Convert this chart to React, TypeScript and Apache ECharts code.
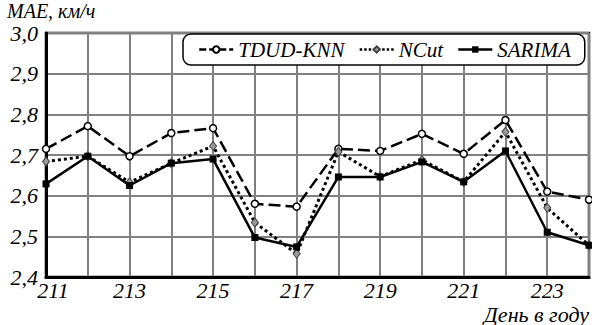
import React, { useEffect, useRef } from "react";
import * as echarts from "echarts";

const days = [211, 212, 213, 214, 215, 216, 217, 218, 219, 220, 221, 222, 223, 224];
const tdudKnn = [2.715, 2.771, 2.697, 2.754, 2.766, 2.58, 2.573, 2.715, 2.71, 2.752, 2.703, 2.786, 2.61, 2.59];
const nCut = [2.684, 2.697, 2.633, 2.68, 2.722, 2.534, 2.457, 2.708, 2.647, 2.688, 2.634, 2.757, 2.57, 2.478];
const sarima = [2.629, 2.697, 2.625, 2.68, 2.69, 2.497, 2.474, 2.646, 2.646, 2.683, 2.634, 2.71, 2.51, 2.478];
const yTitle = "MAE, км/ч";
const xTitle = "День в году";

const FONT = "Liberation Serif";
const DASH = [12, 5];
const DOT = [3, 3];

export default function App() {
  const ref = useRef<HTMLDivElement>(null);
  useEffect(() => {
    document.body.style.margin = "0";
    const chart = echarts.init(ref.current!, undefined, { renderer: "svg" });
    const pair = (arr: number[]) => days.map((d, i) => [d, arr[i]]);
    chart.setOption({
      animation: false,
      backgroundColor: "#fff",
      grid: {
        left: 46,
        right: 3,
        top: 33,
        bottom: 48,
        show: true,
        borderColor: "#000",
        borderWidth: 2.5,
        containLabel: false,
      },
      legend: {
        left: 183,
        top: 34,
        width: 404,
        height: 32,
        padding: [5, 14, 5, 15],
        itemGap: 14,
        itemWidth: 34,
        itemHeight: 8,
        backgroundColor: "#fff",
        borderColor: "#000",
        borderWidth: 1.5,
        borderRadius: 8,
        textStyle: { fontFamily: FONT, fontStyle: "italic", fontSize: 21, color: "#000" },
        data: [
          { name: "TDUD-KNN", lineStyle: { type: [7, 3], width: 2.5, color: "#000" } },
          { name: "NCut", lineStyle: { type: [2.5, 2], width: 2.5, color: "#000" } },
          { name: "SARIMA", lineStyle: { type: "solid", width: 2.5, color: "#000" } },
        ],
      },
      xAxis: {
        type: "value",
        min: 211,
        max: 224,
        interval: 1,
        axisLine: { show: true, lineStyle: { color: "#000", width: 3 } },
        axisTick: { show: false },
        splitLine: { show: true, lineStyle: { color: "#808080", width: 2 } },
        axisLabel: {
          fontFamily: FONT,
          fontStyle: "italic",
          fontSize: 22,
          lineHeight: 18,
          color: "#000",
          margin: 4,
          formatter: (v: number) =>
            v === 211 ? "{first|" + v + "}" : v % 2 === 1 && v < 224 ? String(v) : "",
          rich: {
            first: {
              fontFamily: FONT,
              fontStyle: "italic",
              fontSize: 22,
              lineHeight: 18,
              color: "#000",
              padding: [0, 0, 0, 14],
            },
          },
        },
      },
      yAxis: {
        type: "value",
        min: 2.4,
        max: 3.0,
        interval: 0.1,
        axisLine: { show: true, lineStyle: { color: "#000", width: 3 } },
        axisTick: { show: false },
        splitLine: { show: true, lineStyle: { color: "#808080", width: 2 } },
        axisLabel: {
          fontFamily: FONT,
          fontStyle: "italic",
          fontSize: 22,
          lineHeight: 16,
          color: "#000",
          margin: 8,
          formatter: (v: number) => v.toFixed(1).replace(".", ","),
        },
      },
      graphic: [
        {
          type: "text",
          left: 7,
          top: 1,
          style: { text: yTitle, fontFamily: FONT, fontStyle: "italic", fontSize: 20, lineHeight: 20, fill: "#000" },
        },
        {
          type: "text",
          right: 3,
          bottom: 0,
          style: { text: xTitle, fontFamily: FONT, fontStyle: "italic", fontSize: 22, lineHeight: 16, fill: "#000" },
        },
      ],
      series: [
        {
          name: "TDUD-KNN",
          type: "line",
          data: pair(tdudKnn),
          symbol: "circle",
          symbolSize: 7,
          itemStyle: { color: "#fff", borderColor: "#000", borderWidth: 1.5 },
          lineStyle: { color: "#000", width: 2.5, type: DASH },
          z: 3,
        },
        {
          name: "NCut",
          type: "line",
          data: pair(nCut),
          symbol: "diamond",
          symbolSize: [7, 9],
          itemStyle: { color: "#9a9a9a", borderColor: "#444", borderWidth: 1 },
          lineStyle: { color: "#000", width: 3, type: DOT },
          z: 4,
        },
        {
          name: "SARIMA",
          type: "line",
          data: pair(sarima),
          symbol: "rect",
          symbolSize: 7,
          itemStyle: { color: "#000", borderColor: "#000", borderWidth: 0 },
          lineStyle: { color: "#000", width: 2.5 },
          z: 5,
        },
      ],
    });
    return () => chart.dispose();
  }, []);
  return <div ref={ref} style={{ width: 592, height: 325 }} />;
}
